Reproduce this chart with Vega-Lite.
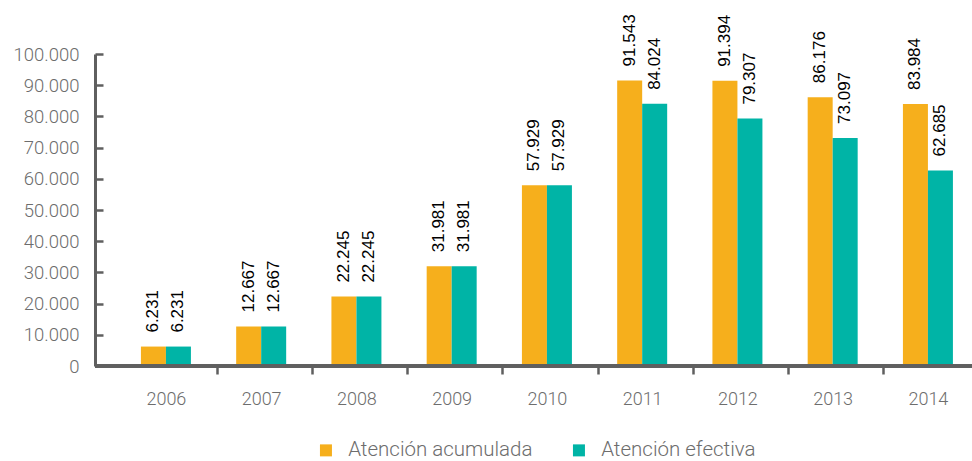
{
  "$schema": "https://vega.github.io/schema/vega-lite/v6.json",
  "width": 877,
  "height": 312,
  "autosize": {"type": "none"},
  "padding": {"left": 95, "top": 54, "right": 0, "bottom": 95},
  "config": {
    "view": {"stroke": null},
    "font": "Roboto",
    "locale": {"number": {"decimal": ",", "thousands": ".", "grouping": [3], "currency": ["", " €"]}}
  },
  "data": {
    "values": [
      {"year": "2006", "serie": "Atención acumulada", "value": 6231},
      {"year": "2006", "serie": "Atención efectiva", "value": 6231},
      {"year": "2007", "serie": "Atención acumulada", "value": 12667},
      {"year": "2007", "serie": "Atención efectiva", "value": 12667},
      {"year": "2008", "serie": "Atención acumulada", "value": 22245},
      {"year": "2008", "serie": "Atención efectiva", "value": 22245},
      {"year": "2009", "serie": "Atención acumulada", "value": 31981},
      {"year": "2009", "serie": "Atención efectiva", "value": 31981},
      {"year": "2010", "serie": "Atención acumulada", "value": 57929},
      {"year": "2010", "serie": "Atención efectiva", "value": 57929},
      {"year": "2011", "serie": "Atención acumulada", "value": 91543},
      {"year": "2011", "serie": "Atención efectiva", "value": 84024},
      {"year": "2012", "serie": "Atención acumulada", "value": 91394},
      {"year": "2012", "serie": "Atención efectiva", "value": 79307},
      {"year": "2013", "serie": "Atención acumulada", "value": 86176},
      {"year": "2013", "serie": "Atención efectiva", "value": 73097},
      {"year": "2014", "serie": "Atención acumulada", "value": 83984},
      {"year": "2014", "serie": "Atención efectiva", "value": 62685}
    ]
  },
  "encoding": {
    "x": {
      "field": "year",
      "type": "nominal",
      "scale": {"type": "band", "range": [23.75, 881], "paddingInner": 0, "paddingOuter": 0},
      "axis": {
        "title": null,
        "domain": false,
        "labelAngle": 0,
        "bandPosition": 1,
        "tickOffset": 2.5,
        "labelOffset": -3,
        "tickSize": 8,
        "tickWidth": 2.5,
        "tickColor": "#5f5f5f",
        "labelFont": "Roboto",
        "labelFontWeight": 300,
        "labelFontSize": 18,
        "labelColor": "#6d6d6d",
        "labelPadding": 16
      }
    },
    "xOffset": {
      "field": "serie",
      "type": "nominal",
      "scale": {"paddingInner": 0, "paddingOuter": 0.905, "align": 0.49}
    },
    "y": {
      "field": "value",
      "type": "quantitative",
      "scale": {"domain": [0, 100000], "nice": false},
      "axis": {
        "title": null,
        "grid": false,
        "values": [0, 10000, 20000, 30000, 40000, 50000, 60000, 70000, 80000, 90000, 100000],
        "format": ",d",
        "domainColor": "#5f5f5f",
        "domainWidth": 3,
        "tickColor": "#5f5f5f",
        "tickWidth": 2.5,
        "tickSize": -8,
        "labelPadding": 24,
        "labelFont": "Roboto",
        "labelFontWeight": 300,
        "labelFontSize": 18.5,
        "labelColor": "#6d6d6d"
      }
    }
  },
  "layer": [
    {
      "mark": {"type": "bar"},
      "encoding": {
        "color": {
          "field": "serie",
          "type": "nominal",
          "scale": {"domain": ["Atención acumulada", "Atención efectiva"], "range": ["#F6AF1C", "#00B4A6"]},
          "legend": {
            "title": null,
            "orient": "none",
            "legendX": 220.7,
            "legendY": 386,
            "direction": "horizontal",
            "padding": 0,
            "symbolType": "square",
            "symbolSize": 144,
            "symbolStrokeWidth": 0,
            "labelOffset": 12,
            "labelLimit": 400,
            "columnPadding": 36,
            "labelFont": "Roboto",
            "labelFontWeight": 300,
            "labelFontSize": 20.5,
            "labelColor": "#6d6d6d"
          }
        }
      }
    },
    {
      "mark": {
        "type": "text",
        "angle": 270,
        "align": "left",
        "baseline": "middle",
        "dx": 14,
        "font": "Liberation Sans",
        "fontSize": 17,
        "fill": "#000000"
      },
      "encoding": {
        "text": {"field": "value", "type": "quantitative", "format": ",d"}
      }
    },
    {
      "mark": {"type": "rule", "color": "#5f5f5f", "strokeWidth": 2.5},
      "encoding": {"y": {"datum": 0}, "x": null, "xOffset": null}
    }
  ]
}
